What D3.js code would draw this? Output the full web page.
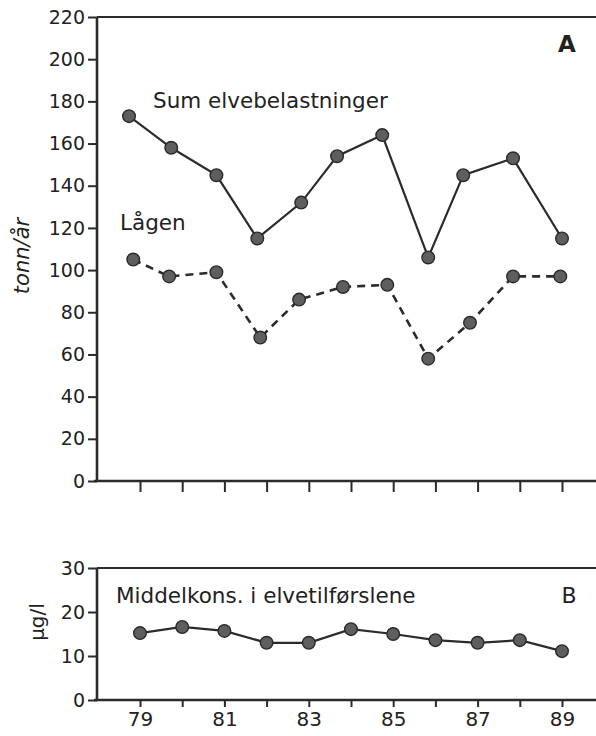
<!DOCTYPE html>
<html>
<head>
<meta charset="utf-8">
<script src="https://cdn.jsdelivr.net/npm/d3@7"></script>
<style>
  body { margin: 0; background: #fff; }
  text { font-family: "DejaVu Sans", sans-serif; fill: #222; }
</style>
</head>
<body>
<div id="chart"></div>
<script>
// panel A: tonn/år, panel B: µg/l
var years = [79, 80, 81, 82, 83, 84, 85, 86, 87, 88, 89];
var yearLabels = [79, 81, 83, 85, 87, 89];

// points in panel A sit a little left of the year ticks in the original
var sumYears = [78.74, 79.74, 80.81, 81.78, 82.82, 83.67, 84.74, 85.83, 86.66, 87.84, 89.0];
var sumValues = [173, 158, 145, 115, 132, 154, 164, 106, 145, 153, 115];

var lagenYears = [78.84, 79.69, 80.81, 81.85, 82.77, 83.81, 84.86, 85.83, 86.82, 87.84, 88.96];
var lagenValues = [105, 97, 99, 68, 86, 92, 93, 58, 75, 97, 97];

var konsValues = [15.2, 16.6, 15.7, 13.0, 13.0, 16.1, 15.0, 13.6, 13.0, 13.6, 11.1];

var ticksA = d3.range(0, 221, 20);
var ticksB = [0, 10, 20, 30];

var width = 596, height = 736;
var left = 97, right = 596;
var ink = "#2b2b2b";

var svg = d3.select("#chart").append("svg")
  .attr("width", width)
  .attr("height", height);

var x = d3.scaleLinear().domain([79, 89]).range([140, 562]);
var yA = d3.scaleLinear().domain([0, 220]).range([481, 17]);
var yB = d3.scaleLinear().domain([0, 30]).range([700, 568]);

function frame(y, ticks, yTop, yBottom, labels, xTick) {
  var gy = svg.append("g")
    .attr("transform", "translate(" + left + ",0)")
    .call(d3.axisLeft(y).tickValues(ticks).tickSize(9).tickPadding(3));
  gy.select(".domain").remove();
  gy.selectAll("line").attr("stroke", ink).attr("stroke-width", 2);
  gy.selectAll("text").style("font-size", "19px").attr("fill", "#222");

  var gx = svg.append("g")
    .attr("transform", "translate(0," + yBottom + ")")
    .call(d3.axisBottom(x).tickValues(years).tickSize(xTick).tickPadding(5)
      .tickFormat(function(d) { return labels && labels.indexOf(d) >= 0 ? d : ""; }));
  gx.select(".domain").remove();
  gx.selectAll("line").attr("stroke", ink).attr("stroke-width", 2);
  gx.selectAll("text").style("font-size", "20px").attr("fill", "#222");

  // left axis, top border, bottom axis
  svg.append("line").attr("x1", left).attr("x2", left).attr("y1", yTop).attr("y2", yBottom + 1)
    .attr("stroke", ink).attr("stroke-width", 2.6);
  svg.append("line").attr("x1", left).attr("x2", right).attr("y1", yTop).attr("y2", yTop)
    .attr("stroke", ink).attr("stroke-width", 2);
  svg.append("line").attr("x1", left - 3).attr("x2", right).attr("y1", yBottom).attr("y2", yBottom)
    .attr("stroke", ink).attr("stroke-width", 2.4);
}

frame(yA, ticksA, yA(220), yA(0), null, 11);
frame(yB, ticksB, yB(30), yB(0), yearLabels, 7);

function series(xs, vs, y, dashed) {
  var pts = xs.map(function(d, i) { return [x(d), y(vs[i])]; });
  svg.append("path")
    .attr("d", d3.line()(pts))
    .attr("fill", "none")
    .attr("stroke", ink)
    .attr("stroke-width", dashed ? 2.6 : 2.2)
    .attr("stroke-dasharray", dashed ? "8,6" : null);
  svg.append("g").selectAll("circle")
    .data(pts)
    .enter().append("circle")
      .attr("cx", function(d) { return d[0]; })
      .attr("cy", function(d) { return d[1]; })
      .attr("r", 6.3)
      .attr("fill", "#5e5e5e")
      .attr("stroke", "#2a2a2a")
      .attr("stroke-width", 1.4);
}

series(sumYears, sumValues, yA, false);
series(lagenYears, lagenValues, yA, true);
series(years, konsValues, yB, false);

// labels
svg.append("text").attr("x", 153).attr("y", 108)
  .style("font-size", "21.5px").text("Sum elvebelastninger");
svg.append("text").attr("x", 120).attr("y", 230)
  .style("font-size", "21.5px").text("Lågen");
svg.append("text").attr("x", 116).attr("y", 603)
  .style("font-size", "21.5px").text("Middelkons. i elvetilførslene");

svg.append("text").attr("x", 567).attr("y", 52).attr("text-anchor", "middle")
  .style("font-size", "23px").style("font-weight", "bold").text("A");
svg.append("text").attr("x", 569).attr("y", 603).attr("text-anchor", "middle")
  .style("font-size", "22px").text("B");

svg.append("text")
  .attr("transform", "translate(29,256) rotate(-90)")
  .attr("text-anchor", "middle")
  .style("font-size", "21px").style("font-style", "italic")
  .text("tonn/år");
svg.append("text")
  .attr("transform", "translate(44,622) rotate(-90)")
  .attr("text-anchor", "middle")
  .style("font-size", "20px")
  .text("µg/l");
</script>
</body>
</html>
